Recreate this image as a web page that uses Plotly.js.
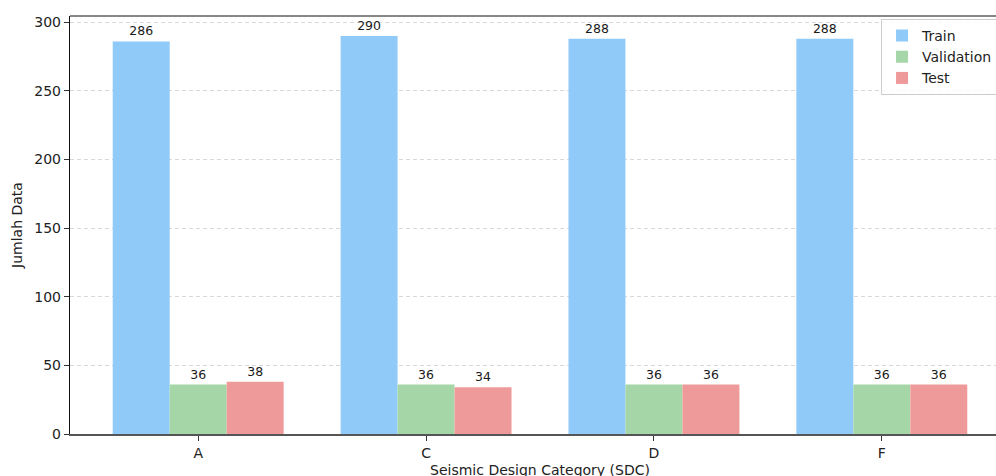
<!DOCTYPE html>
<html>
<head>
<meta charset="utf-8">
<script src="https://cdn.plot.ly/plotly-3.0.1.min.js"></script>
<style>
html,body{margin:0;padding:0;overflow:hidden;background:#fff;width:996px;height:476px;}
#chart{width:1030px;height:490px;}
</style>
</head>
<body>
<div id="chart"></div>
<script>
const categories = ["A", "C", "D", "F"];
const trainValues = [286, 290, 288, 288];
const validationValues = [36, 36, 36, 36];
const testValues = [38, 34, 36, 36];
const seriesNames = ["Train", "Validation", "Test"];
const seriesColors = ["#90CAF9", "#A5D6A7", "#EF9A9A"];
const yTicks = [0, 50, 100, 150, 200, 250, 300];

const xIdx = categories.map((c, i) => i);
const allSeries = [trainValues, validationValues, testValues];

const traces = allSeries.map((vals, k) => ({
  type: "bar",
  name: seriesNames[k],
  x: xIdx,
  y: vals,
  marker: {color: seriesColors[k], line: {width: 0}},
  text: vals.map(String),
  textposition: "outside",
  textfont: {family: "DejaVu Sans", size: 12.5, color: "#1a1a1a"},
  cliponaxis: false,
  constraintext: "none",
  hoverinfo: "x+y+name"
}));

const layout = {
  width: 1030,
  height: 490,
  margin: {l: 70, r: 20, t: 16, b: 56},
  paper_bgcolor: "#ffffff",
  plot_bgcolor: "#ffffff",
  font: {family: "DejaVu Sans", size: 14, color: "#222"},
  barmode: "group",
  bargap: 0.25,
  bargroupgap: 0,
  showlegend: true,
  legend: {
    x: 0.8628, xanchor: "left",
    y: 0.993, yanchor: "top",
    bgcolor: "rgba(255,255,255,0.85)",
    bordercolor: "#cccccc",
    borderwidth: 1,
    font: {family: "DejaVu Sans", size: 14, color: "#222"},
    itemwidth: 30,
    tracegroupgap: 2
  },
  xaxis: {
    range: [-0.5625, 3.5625],
    tickmode: "array",
    tickvals: xIdx,
    ticktext: categories,
    ticks: "outside",
    ticklen: 5,
    tickcolor: "#333",
    tickfont: {family: "DejaVu Sans", size: 14, color: "#222"},
    showgrid: false,
    zeroline: false,
    showline: true,
    linecolor: "#555",
    linewidth: 2,
    mirror: false,
    title: {text: "Seismic Design Category (SDC)", font: {family: "DejaVu Sans", size: 14, color: "#222"}, standoff: 5}
  },
  yaxis: {
    range: [0, 304.5],
    tickmode: "array",
    tickvals: yTicks,
    ticktext: yTicks.map(String),
    ticks: "outside",
    ticklen: 5,
    tickcolor: "#333",
    tickfont: {family: "DejaVu Sans", size: 14, color: "#222"},
    showgrid: true,
    gridcolor: "#d8d8d8",
    gridwidth: 1,
    griddash: "4px,3px",
    zeroline: false,
    showline: true,
    linecolor: "#111",
    linewidth: 1.2,
    title: {text: "Jumlah Data", font: {family: "DejaVu Sans", size: 14, color: "#222"}, standoff: 8}
  },
  shapes: [
    {type: "line", xref: "paper", yref: "paper", x0: 0, x1: 1, y0: 1, y1: 1, line: {color: "#111", width: 1.2}},
    {type: "line", xref: "paper", yref: "paper", x0: 1, x1: 1, y0: 0, y1: 1, line: {color: "#111", width: 1.2}}
  ]
};

Plotly.newPlot("chart", traces, layout, {displayModeBar: false, staticPlot: true});
</script>
</body>
</html>
